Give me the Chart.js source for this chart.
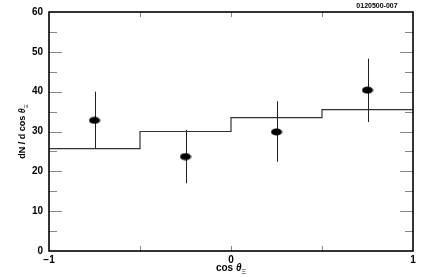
<!DOCTYPE html>
<html>
<head>
<meta charset="utf-8">
<script src="https://cdn.jsdelivr.net/npm/chart.js@4.4.1/dist/chart.umd.min.js"></script>
<style>
  html, body { margin: 0; padding: 0; background: #fff; }
  canvas { display: block; }
</style>
</head>
<body>
<canvas id="c" width="432" height="277"></canvas>
<script>
// ---- data ----
const binEdges = [-1, -0.5, 0, 0.5, 1];
const histValues = [25.7, 30.0, 33.5, 35.5];

const pointX = [-0.75, -0.25, 0.25, 0.75];
const pointY = [32.8, 23.7, 29.9, 40.4];
const errLow = [25.6, 17.0, 22.4, 32.4];
const errHigh = [40.0, 30.4, 37.6, 48.3];

const xTickLabels = { "-1": "\u22121", "0": "0", "1": "1" };
const yTicks = [0, 10, 20, 30, 40, 50, 60];
const plotTag = "0120500-007";

const FONT = "'Liberation Sans', Arial, sans-serif";

// histogram as a stepped line: last value repeated at right edge
const histData = binEdges.map((x, i) => ({ x, y: histValues[Math.min(i, histValues.length - 1)] }));
const pointData = pointX.map((x, i) => ({ x, y: pointY[i] }));

// ellipse marker
const marker = document.createElement("canvas");
marker.width = 12; marker.height = 8;
{
  const m = marker.getContext("2d");
  m.fillStyle = "#000";
  m.beginPath();
  m.ellipse(6, 4, 5.5, 3.6, 0, 0, Math.PI * 2);
  m.fill();
}

const decor = {
  id: "decor",
  beforeDatasetsDraw(chart) {
    const { ctx, scales: { x, y } } = chart;
    ctx.save();
    ctx.strokeStyle = "#222";
    ctx.lineWidth = 1;
    pointX.forEach((px, i) => {
      const xp = Math.round(x.getPixelForValue(px)) + 0.5;
      ctx.beginPath();
      ctx.moveTo(xp, y.getPixelForValue(errLow[i]));
      ctx.lineTo(xp, y.getPixelForValue(errHigh[i]));
      ctx.stroke();
    });
    ctx.restore();
  },
  afterDraw(chart) {
    const { ctx, chartArea: a, scales: { x, y } } = chart;
    ctx.save();
    // inward ticks
    ctx.strokeStyle = "#888";
    ctx.lineWidth = 1;
    for (let v = 5; v < 60; v += 5) {
      const yp = Math.round(y.getPixelForValue(v)) + 0.5;
      const len = v % 10 === 0 ? 13 : 8;
      ctx.beginPath();
      ctx.moveTo(a.left, yp); ctx.lineTo(a.left + len, yp);
      ctx.moveTo(a.right, yp); ctx.lineTo(a.right - len, yp);
      ctx.stroke();
    }
    [-0.5, 0, 0.5].forEach(v => {
      const xp = Math.round(x.getPixelForValue(v)) + 0.5;
      ctx.beginPath();
      ctx.moveTo(xp, a.bottom); ctx.lineTo(xp, a.bottom - 5);
      ctx.moveTo(xp, a.top); ctx.lineTo(xp, a.top + 5);
      ctx.stroke();
    });
    // frame
    ctx.strokeStyle = "#000";
    ctx.lineWidth = 1.6;
    ctx.strokeRect(a.left, a.top, a.right - a.left, a.bottom - a.top);

    ctx.fillStyle = "#000";
    // tag
    ctx.font = "bold 7px " + FONT;
    ctx.textAlign = "center";
    ctx.textBaseline = "alphabetic";
    ctx.fillText(plotTag, 377, 8);

    // x title: cos θ_Ξ
    const xt = (a.left + a.right) / 2;
    ctx.font = "bold 10px " + FONT;
    ctx.textAlign = "left";
    const w1 = ctx.measureText("cos ").width;
    ctx.font = "italic bold 10px " + FONT;
    const w2 = ctx.measureText("\u03B8").width;
    ctx.font = "7px " + FONT;
    const w3 = ctx.measureText("\u039E").width;
    let sx = xt - (w1 + w2 + w3) / 2;
    const by = 271;
    ctx.font = "bold 10px " + FONT; ctx.fillText("cos ", sx, by); sx += w1;
    ctx.font = "italic bold 10px " + FONT; ctx.fillText("\u03B8", sx, by); sx += w2;
    ctx.font = "7px " + FONT; ctx.fillText("\u039E", sx, by + 3);

    // y title: dN / d cos θ_Ξ (rotated)
    ctx.translate(25, (a.top + a.bottom) / 2);
    ctx.rotate(-Math.PI / 2);
    ctx.font = "bold 9px " + FONT;
    const u1 = ctx.measureText("dN / d cos ").width;
    ctx.font = "italic bold 9px " + FONT;
    const u2 = ctx.measureText("\u03B8").width;
    ctx.font = "6px " + FONT;
    const u3 = ctx.measureText("\u039E").width;
    let tx = -(u1 + u2 + u3) / 2;
    ctx.font = "bold 9px " + FONT; ctx.fillText("dN / d cos ", tx, 0); tx += u1;
    ctx.font = "italic bold 9px " + FONT; ctx.fillText("\u03B8", tx, 0); tx += u2;
    ctx.font = "6px " + FONT; ctx.fillText("\u039E", tx, 3);
    ctx.restore();
  }
};

new Chart(document.getElementById("c"), {
  type: "scatter",
  data: {
    datasets: [
      {
        type: "line",
        data: histData,
        stepped: true,
        borderColor: "#333",
        borderWidth: 1.2,
        pointRadius: 0,
        fill: false
      },
      {
        data: pointData,
        pointStyle: marker,
        pointRadius: 5,
        borderWidth: 0,
        showLine: false
      }
    ]
  },
  options: {
    responsive: false,
    animation: false,
    events: [],
    layout: { padding: { top: 10, right: 19, left: 0, bottom: 0 } },
    plugins: { legend: { display: false }, tooltip: { enabled: false } },
    scales: {
      x: {
        type: "linear",
        min: -1, max: 1,
        grid: { display: false, drawTicks: false },
        border: { display: false },
        afterBuildTicks: s => { s.ticks = Object.keys(xTickLabels).map(v => ({ value: Number(v) })); },
        afterFit: s => { s.height = 26; },
        ticks: {
          padding: 3,
          maxRotation: 0,
          autoSkip: false,
          color: "#000",
          font: { family: FONT, size: 10, weight: "bold" },
          callback: v => xTickLabels[String(v)] ?? ""
        }
      },
      y: {
        min: 0, max: 60,
        grid: { display: false, drawTicks: false },
        border: { display: false },
        afterBuildTicks: s => { s.ticks = yTicks.map(v => ({ value: v })); },
        afterFit: s => { s.width = 49; },
        ticks: {
          padding: 6,
          color: "#000",
          font: { family: FONT, size: 10, weight: "bold" }
        }
      }
    }
  },
  plugins: [decor]
});
</script>
</body>
</html>
